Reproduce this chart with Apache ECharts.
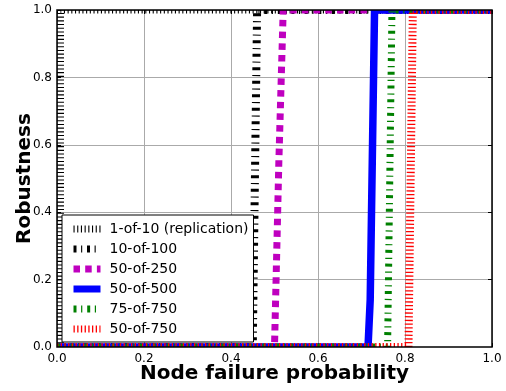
<!DOCTYPE html>
<html><head><meta charset="utf-8">
<script src="https://cdn.jsdelivr.net/npm/echarts@6/dist/echarts.min.js"></script>
<style>html,body{margin:0;padding:0;background:#fff}#c{width:506px;height:391px}</style>
</head><body><div id="c"></div>
<script>
// ---- data ----
const seriesNames = ['1-of-10 (replication)', '10-of-100', '50-of-250', '50-of-500', '75-of-750', '50-of-750'];
const axisMin = 0, axisMax = 1, axisStep = 0.2;
const xTitle = 'Node failure probability';
const yTitle = 'Robustness';

const s1of10X   = [0.008, 0.008, 1.0];
const s1of10Y   = [0, 1, 1];
const s10of100X = [0, 0.45, 0.46, 1.0];
const s10of100Y = [0, 0, 1, 1];
const s50of250X = [0, 0.50, 0.51, 0.52, 1.0];
const s50of250Y = [0, 0, 0.55, 1, 1];
const s50of500X = [0, 0.715, 0.72, 0.73, 1.0];
const s50of500Y = [0, 0, 0.14, 1, 1];
const s75of750X = [0, 0.76, 0.77, 1.0];
const s75of750Y = [0, 0, 1, 1];
const s50of750X = [0, 0.808, 0.818, 1.0];
const s50of750Y = [0, 0, 1, 1];

const xs = [s1of10X, s10of100X, s50of250X, s50of500X, s75of750X, s50of750X];
const ys = [s1of10Y, s10of100Y, s50of250Y, s50of500Y, s75of750Y, s50of750Y];

// ---- styles ----
const styles = [
  {color: '#000000', width: 7, type: [1.1, 2.6]},
  {color: '#000000', width: 8, type: [3, 4.6, 1.1, 4.8]},
  {color: '#bf00bf', width: 7, type: [6.5, 5.2]},
  {color: '#0000ff', width: 7.5, type: 'solid'},
  {color: '#008000', width: 7, type: [3, 4.6, 1.2, 4.9]},
  {color: '#ff0000', width: 8, type: [1.3, 2.4]}
];

const L = 57, T = 10, W = 435, H = 337;
const FONT = 'DejaVu Sans';

const series = seriesNames.map((name, i) => ({
  name: name,
  type: 'line',
  xAxisIndex: 0, yAxisIndex: 0,
  showSymbol: false, symbol: 'none',
  animation: false,
  clip: true,
  z: 2,
  lineStyle: {color: styles[i].color, width: styles[i].width, type: styles[i].type, cap: 'butt', join: 'miter'},
  itemStyle: {color: styles[i].color},
  data: xs[i].map((x, k) => [x, ys[i][k]])
}));

const baseAxis = {type: 'value', min: axisMin, max: axisMax, interval: axisStep};

const option = {
  animation: false,
  backgroundColor: '#fff',
  grid: {left: L, top: T, width: W, height: H, containLabel: false, outerBoundsMode: 'none'},
  xAxis: [
    Object.assign({}, baseAxis, {position: 'bottom', z: 0,
      axisLine: {show: false, onZero: false},
      axisTick: {show: true, inside: true, length: 4, lineStyle: {color: '#000'}},
      axisLabel: {show: false},
      splitLine: {show: true, lineStyle: {color: '#aaaaaa', width: 1}}}),
    Object.assign({}, baseAxis, {position: 'top', z: 0,
      axisLine: {show: false, onZero: false},
      axisTick: {show: true, inside: true, length: 4, lineStyle: {color: '#000'}},
      axisLabel: {show: false},
      splitLine: {show: false}}),
    Object.assign({}, baseAxis, {position: 'bottom', z: 20,
      axisLine: {show: false, onZero: false},
      axisTick: {show: false},
      splitLine: {show: false},
      axisLabel: {margin: 6, fontSize: 12, color: '#000', fontFamily: FONT, formatter: v => v.toFixed(1)},
      name: xTitle, nameLocation: 'middle', nameGap: 17, nameMoveOverlap: false,
      nameTextStyle: {fontSize: 20, fontWeight: 'bold', color: '#000', fontFamily: FONT, lineHeight: 20}})
  ],
  yAxis: [
    Object.assign({}, baseAxis, {position: 'left', z: 0,
      axisLine: {show: false, onZero: false},
      axisTick: {show: true, inside: true, length: 4, lineStyle: {color: '#000'}},
      axisLabel: {show: false},
      splitLine: {show: true, lineStyle: {color: '#aaaaaa', width: 1}}}),
    Object.assign({}, baseAxis, {position: 'right', z: 0,
      axisLine: {show: false, onZero: false},
      axisTick: {show: true, inside: true, length: 4, lineStyle: {color: '#000'}},
      axisLabel: {show: false},
      splitLine: {show: false}}),
    Object.assign({}, baseAxis, {position: 'left', z: 20,
      axisLine: {show: false, onZero: false},
      axisTick: {show: false},
      splitLine: {show: false},
      axisLabel: {margin: 5, fontSize: 12, color: '#000', fontFamily: FONT, formatter: v => v.toFixed(1)},
      name: yTitle, nameLocation: 'middle', nameGap: 22, nameMoveOverlap: false,
      nameTextStyle: {fontSize: 20, fontWeight: 'bold', color: '#000', fontFamily: FONT, lineHeight: 20}})
  ],
  legend: {
    orient: 'vertical', left: 62, top: 215,
    itemWidth: 27, itemHeight: 8, itemGap: 0,
    padding: [4, 5, 3, 8],
    backgroundColor: '#fff', borderColor: '#000', borderWidth: 1, borderRadius: 0,
    textStyle: {fontSize: 14, fontFamily: FONT, color: '#000', lineHeight: 20, padding: [0, 0, 0, 4]},
    itemStyle: {opacity: 0, borderWidth: 0},
    lineStyle: {width: 7},
    data: seriesNames,
    z: 10
  },
  graphic: {z: 3, elements: [
    {type: 'rect', z: 3, silent: true, shape: {x: 0, y: 0, width: 506, height: T}, style: {fill: '#fff'}},
    {type: 'rect', z: 3, silent: true, shape: {x: 0, y: T + H, width: 506, height: 391 - T - H}, style: {fill: '#fff'}},
    {type: 'rect', z: 6, silent: true, shape: {x: L, y: T, width: W, height: H}, style: {fill: 'none', stroke: '#000', lineWidth: 1.5}}
  ]},
  series: series
};

const chart = echarts.init(document.getElementById('c'), null, {renderer: 'canvas'});
chart.setOption(option);
</script>
</body></html>
